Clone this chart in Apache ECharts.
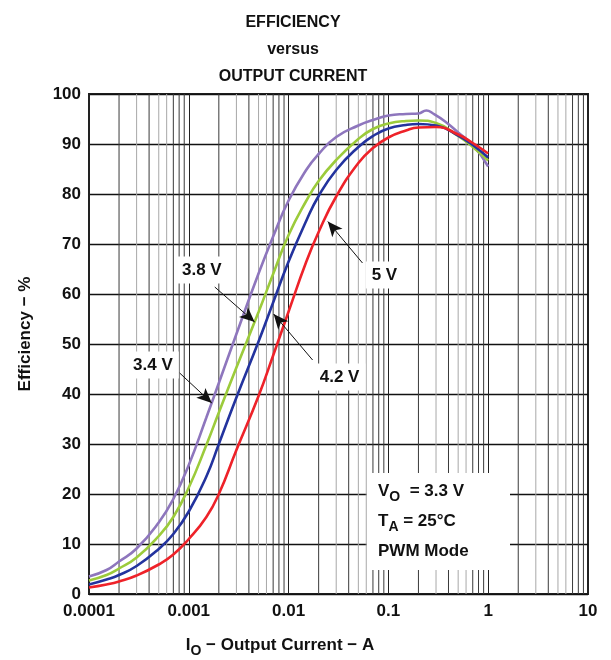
<!DOCTYPE html>
<html>
<head>
<meta charset="utf-8">
<script src="https://cdn.jsdelivr.net/npm/echarts@6/dist/echarts.min.js"></script>
<style>
  html, body { margin: 0; padding: 0; background: #fff; }
  #chart { width: 611px; height: 660px; }
</style>
</head>
<body>
<div id="chart"></div>
<script>
// tick labels
var xTickLabels = ['0.0001', '0.001', '0.01', '0.1', '1', '10'];

// output current (A), shared by 3.8 V, 4.2 V, 5 V
var current = [0.0001, 0.00015, 0.0002, 0.0003, 0.0005, 0.0007, 0.001, 0.0015, 0.002, 0.003, 0.005, 0.007,
               0.01, 0.015, 0.02, 0.03, 0.05, 0.07, 0.1, 0.15, 0.2, 0.3, 0.5, 0.7, 1.0];
// 3.4 V has its own points around the peak
var current34 = [0.0001, 0.00015, 0.0002, 0.0003, 0.0005, 0.0007, 0.001, 0.0015, 0.002, 0.003, 0.005, 0.007,
                 0.01, 0.015, 0.02, 0.03, 0.05, 0.07, 0.1, 0.15, 0.2, 0.24, 0.28, 0.37, 0.5, 0.7, 1.0];

var eff34 = [3.5, 4.8, 6.5, 9.1, 14.3, 19.0, 25.8, 35.3, 42.2, 52, 64.1, 71.5,
             78.7, 84.8, 88.0, 91.4, 93.7, 94.8, 95.7, 96.0, 96.1, 96.7, 96.1, 94.5, 92.3, 89.8, 85.5];
var eff38 = [2.7, 3.8, 5.1, 7.3, 11.6, 15.4, 21.3, 29.8, 36.3, 45.3, 56.4, 64.0,
             71.8, 78.6, 82.6, 86.8, 91.0, 93.0, 94.1, 94.6, 94.7, 94.2, 91.6, 89.4, 86.7];
var eff42 = [1.9, 2.9, 3.8, 5.6, 9.0, 12.0, 16.5, 23.5, 30, 39.3, 50.5, 58.3,
             66.5, 74.6, 79.6, 84.8, 89.4, 91.6, 93.1, 93.8, 94.0, 93.7, 91.7, 89.8, 87.3];
var eff50 = [1.3, 1.9, 2.5, 3.7, 5.9, 7.9, 11.0, 15.4, 20, 28.8, 39.6, 47.7,
             56.5, 66.4, 72.4, 79.5, 86.2, 89.2, 91.3, 92.7, 93.3, 93.4, 91.9, 90.2, 88.1];

var seriesNames = ['3.4 V', '3.8 V', '4.2 V', '5 V'];
var seriesColors = ['#8e76bd', '#9ccb3b', '#23339e', '#ee2229'];

// label position / arrow (start -> tip) in data coords
var labelPos = [[0.000437, 45.8], [0.00135, 64.8], [0.0324, 43.4], [0.0912, 63.8]];
var arrowFrom = [[0.00081, 44.2], [0.00182, 61.4], [0.0174, 46.8], [0.055, 66.2]];
var arrowTo = [[0.0017, 38.2], [0.00457, 54.4], [0.00708, 56], [0.0247, 74.5]];

function zip(xs, ys) {
  return xs.map(function (x, i) { return [x, ys[i]]; });
}

var curData = [zip(current34, eff34), zip(current, eff38), zip(current, eff42), zip(current, eff50)];

// minor log grid lines (dark or light, like the scan)
var minorDark = { 2: 1, 3: 0, 4: 1, 5: 0, 6: 0, 7: 1, 8: 1, 9: 1 };
var minorLines = [];
[0.0001, 0.001, 0.01, 0.1, 1].forEach(function (d) {
  for (var m = 2; m <= 9; m++) minorLines.push([d * m, minorDark[m]]);
});

var font = 'Liberation Sans, Arial, sans-serif';

var chart = echarts.init(document.getElementById('chart'));

var series = [{
  type: 'custom',
  silent: true,
  z: 1,
  data: minorLines,
  encode: { x: 0 },
  renderItem: function (params, api) {
    var v = api.value(0);
    var p0 = api.coord([v, 0]);
    var p1 = api.coord([v, 100]);
    return {
      type: 'line',
      shape: { x1: p0[0], y1: p0[1], x2: p1[0], y2: p1[1] },
      style: { stroke: api.value(1) ? '#3a3a3a' : '#a8a8a8', lineWidth: 1 }
    };
  }
}];

curData.forEach(function (d, i) {
  series.push({
    name: seriesNames[i],
    type: 'line',
    data: d,
    smooth: 0.5,
    showSymbol: false,
    z: 3,
    lineStyle: { color: seriesColors[i], width: 2.6 },
    markLine: {
      silent: true,
      animation: false,
      symbol: ['none', 'arrow'],
      symbolSize: [10, 15],
      label: { show: false },
      lineStyle: { color: '#111', width: 1, type: 'solid' },
      data: [[{ coord: arrowFrom[i] }, { coord: arrowTo[i] }]]
    }
  });
});

chart.setOption({
  animation: false,
  title: {
    text: 'EFFICIENCY\nversus\nOUTPUT CURRENT',
    left: 288,
    top: 4,
    textAlign: 'center',
    textStyle: { fontFamily: font, fontSize: 16, fontWeight: 'bold', color: '#111', lineHeight: 27 }
  },
  grid: {
    left: 89, right: 23, top: 94, bottom: 66,
    show: true, borderColor: '#222', borderWidth: 2, backgroundColor: 'transparent'
  },
  xAxis: {
    type: 'log',
    logBase: 10,
    min: 0.0001,
    max: 10,
    axisLine: { show: false },
    axisTick: { show: false },
    axisLabel: {
      margin: 9,
      fontFamily: font, fontSize: 17, fontWeight: 'bold', color: '#111',
      formatter: function (v, idx) { return xTickLabels[idx]; }
    },
    splitLine: { show: true, lineStyle: { color: '#222', width: 1 } }
  },
  yAxis: {
    type: 'value',
    min: 0, max: 100, interval: 10,
    axisLine: { show: false },
    axisTick: { show: false },
    axisLabel: { margin: 8, fontFamily: font, fontSize: 17, fontWeight: 'bold', color: '#111' },
    splitLine: { show: true, lineStyle: { color: '#111', width: 1.3 } }
  },
  series: series
});

// text annotations
var labelText = {
  fontFamily: font, fontSize: 17, fontWeight: 'bold', fill: '#111',
  align: 'center', verticalAlign: 'middle',
  backgroundColor: '#fff', padding: [5, 6]
};
var graphics = labelPos.map(function (p, i) {
  var px = chart.convertToPixel({ gridIndex: 0 }, p);
  return {
    type: 'text', x: px[0], y: px[1], z: 10,
    style: Object.assign({ text: seriesNames[i] }, labelText)
  };
});

var rich = {
  a: { fontFamily: font, fontSize: 17, fontWeight: 'bold', fill: '#111', lineHeight: 30 },
  s: { fontFamily: font, fontSize: 14, fontWeight: 'bold', fill: '#111', lineHeight: 30, padding: [12, 0, 0, 0] }
};

graphics.push({
  type: 'rect', z: 9,
  shape: { x: 367, y: 473, width: 143, height: 97 },
  style: { fill: '#fff' }
});
graphics.push({
  type: 'text', x: 378, y: 476, z: 10,
  style: {
    text: '{a|V}{s|O}{a|  = 3.3 V}\n{a|T}{s|A}{a| = 25°C}\n{a|PWM Mode}',
    rich: rich
  }
});
graphics.push({
  type: 'text', x: 280, y: 645, z: 10,
  style: {
    text: '{a|I}{s|O}{a| − Output Current − A}',
    align: 'center', verticalAlign: 'middle',
    rich: rich
  }
});
graphics.push({
  type: 'text', x: 25, y: 334, z: 10, rotation: Math.PI / 2,
  style: {
    text: 'Efficiency − %',
    fontFamily: font, fontSize: 17, fontWeight: 'bold', fill: '#111',
    align: 'center', verticalAlign: 'middle'
  }
});

chart.setOption({ graphic: graphics });
</script>
</body>
</html>
